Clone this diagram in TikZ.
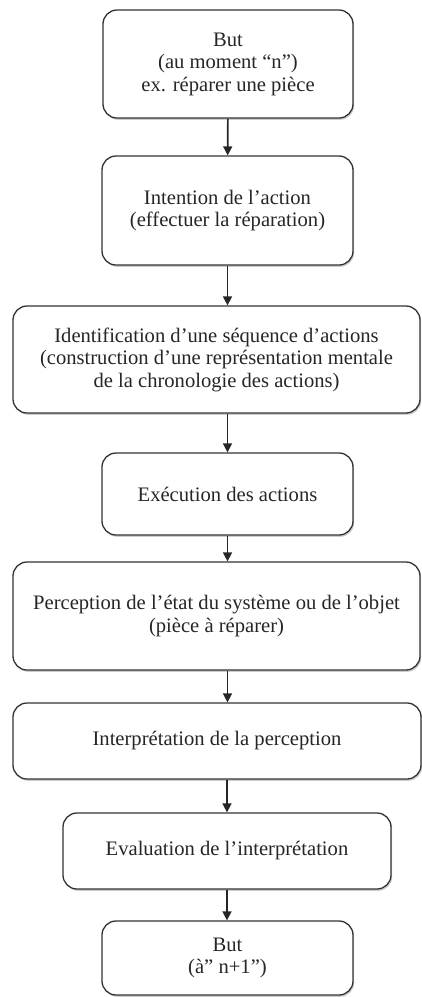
\documentclass[tikz,border=0pt]{standalone}
\usepackage{fontspec}
\setmainfont{Liberation Serif}
\usetikzlibrary{arrows.meta,shadows}

\tikzset{
  etape/.style={draw=black!80, line width=1.3pt, rounded corners=14pt, fill=white,
    align=center, inner sep=0pt, text=black!85,
    font=\fontsize{20.6}{22.5}\selectfont,
    drop shadow={shadow xshift=1.2pt, shadow yshift=-1.8pt, opacity=0.4}},
  fleche/.style={-{Triangle[width=9pt,length=9pt]}, line width=1.6pt, draw=black!85},
}

\begin{document}
\begin{tikzpicture}[x=1pt, y=-1pt]
      \useasboundingbox (0,0) rectangle (421,997);

      \node[etape, minimum width=250, minimum height=108] (but) at (228, 64)
        {But\\(au moment “n”)\\ex. réparer une pièce};
      \node[etape, minimum width=251, minimum height=109] (intention) at (227.5, 210.5)
        {Intention de l’action\\(effectuer la réparation)};
      \node[etape, minimum width=407, minimum height=107] (sequence) at (216.5, 359.5)
        {Identification d’une séquence d’actions\\(construction d’une représentation mentale\\de la chronologie des actions)};
      \node[etape, minimum width=251, minimum height=82] (execution) at (227.5, 494)
        {Exécution des actions};
      \node[etape, minimum width=407, minimum height=108] (perception) at (216.5, 616)
        {Perception de l’état du système ou de l’objet\\(pièce à réparer)};
      \node[etape, minimum width=408, minimum height=76] (interpretation) at (217, 741)
        {Interprétation de la perception};
      \node[etape, minimum width=328, minimum height=76] (evaluation) at (227, 851)
        {Evaluation de l’interprétation};
      \node[etape, minimum width=251, minimum height=74] (butsuivant) at (227.5, 958)
        {But\\(à” n+1”)};

      \draw[fleche] (but) -- (intention);
      \draw[fleche] (intention) -- (intention |- sequence.north);
      \draw[fleche] (execution |- sequence.south) -- (execution);
      \draw[fleche] (execution) -- (execution |- perception.north);
      \draw[fleche] (execution |- perception.south) -- (execution |- interpretation.north);
      \draw[fleche] (evaluation |- interpretation.south) -- (evaluation);
      \draw[fleche] (evaluation) -- (evaluation |- butsuivant.north);
\end{tikzpicture}
\end{document}
